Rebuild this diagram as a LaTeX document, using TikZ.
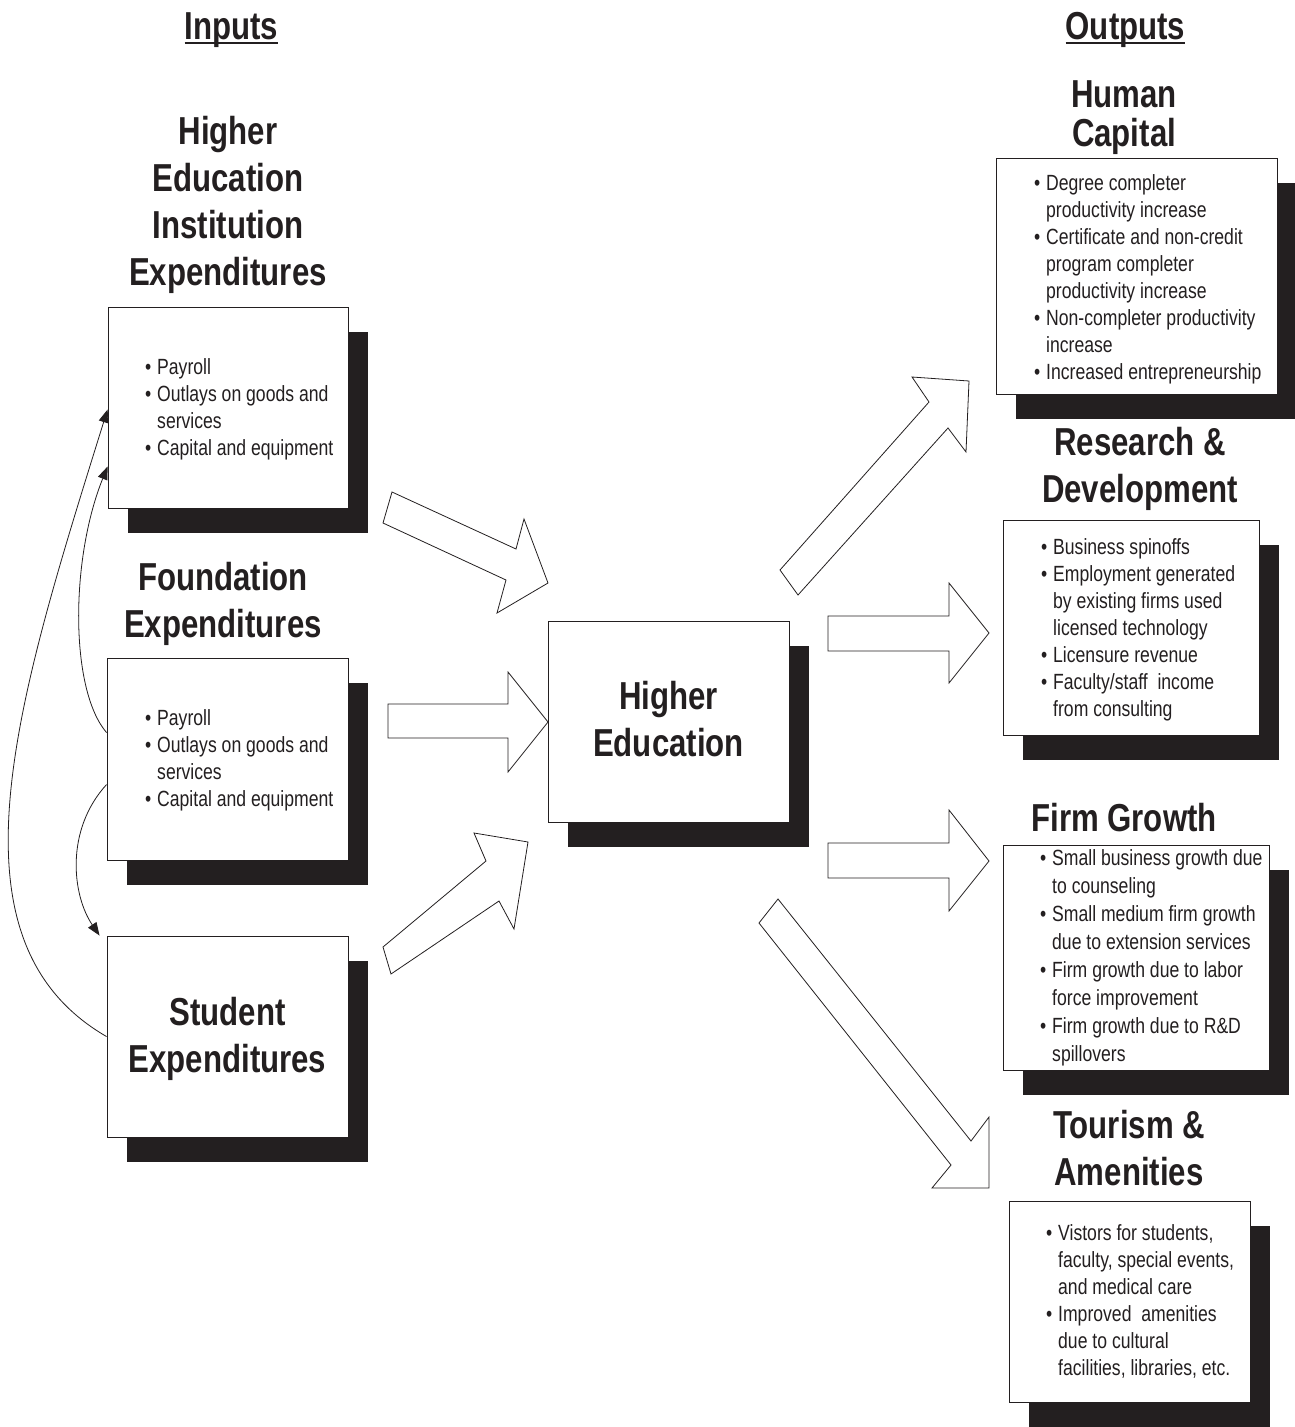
\documentclass[tikz,border=0pt]{standalone}
\usepackage{fontspec}
\setmainfont{Liberation Sans}[FakeStretch=0.8]
\usetikzlibrary{arrows.meta,shadows,calc}
\definecolor{ink}{RGB}{35,31,32}
\newcommand\bi{\strut\llap{•\hspace{6pt}}}
\newcommand\cl{\strut}
\newcommand\myul[1]{\setbox0\hbox{#1}\rlap{\rule[-5pt]{\wd0}{2.6pt}}\box0}
\begin{document}
\begin{tikzpicture}[x=1pt,y=-1pt,
  box/.style={draw=ink, line width=0.9pt, fill=white, inner sep=0,
    drop shadow={shadow xshift=20pt, shadow yshift=-25pt, fill=ink, opacity=1}},
  boxtxt/.style={font=\fontsize{39}{47}\selectfont\bfseries, text=ink, align=center},
  head/.style={font=\fontsize{39}{47}\selectfont\bfseries, text=ink, align=center, inner sep=0, anchor=north},
  lst/.style={font=\fontsize{22}{27}\selectfont, text=ink, align=left, inner sep=0, anchor=north west},
  blk/.style={draw=ink, line width=0.8pt, fill=white, line join=miter},
  cur/.style={draw=ink, line width=0.8pt, -{Triangle[length=13pt,width=10pt]}}]
\useasboundingbox (0,0) rectangle (1294,1427);

% titles
\node[head] (tin) at (231.5,6.1) {\strut\myul{Inputs}};
\node[head] (tout) at (1125.5,6.1) {\strut\myul{Outputs}};

% input boxes
\node[box, minimum width=240pt, minimum height=201pt] (hei) at (228,407.5) {};
\node[box, minimum width=241pt, minimum height=202pt] (fnd) at (227.5,759) {};
\node[box, boxtxt, minimum width=241pt, minimum height=201pt] (stu) at (227.5,1036.5) {\strut Student\\Expenditures};
% central box
\node[box, boxtxt, minimum width=241pt, minimum height=201pt] (he) at (668.5,721.5) {\strut Higher\\Education\rule[-9pt]{0pt}{0pt}};
% output boxes
\node[box, minimum width=281pt, minimum height=236pt] (hc) at (1136.5,276) {};
\node[box, minimum width=256pt, minimum height=215pt] (rd) at (1131,627.5) {};
\node[box, minimum width=266pt, minimum height=225pt] (fg) at (1136,957.5) {};
\node[box, minimum width=241pt, minimum height=201pt] (tr) at (1129.5,1301.5) {};

% headings
\node[head] (heih) at (228,111.1) {\strut Higher\\Education\\Institution\\Expenditures};
\node[head] (fndh) at (223,557.6) {\strut Foundation\\Expenditures};
\node[head] (hch) at (1124,74.1) {\strut Human\\[-8pt]Capital};
\node[head] (rdh) at (1140,422.1) {\strut Research \&\\Development};
\node[head] (fgh) at (1124,798.1) {\strut Firm Growth};
\node[head] (trh) at (1129,1105.1) {\strut Tourism \&\\Amenities};

% lists
\node[lst] (heil) at (157,355.1) {\bi Payroll\\ \bi Outlays on goods and\\ \cl services\\ \bi Capital and equipment};
\node[lst] (fndl) at (157,706.1) {\bi Payroll\\ \bi Outlays on goods and\\ \cl services\\ \bi Capital and equipment};
\node[lst] (hcl) at (1046,171.1) {\bi Degree completer\\ \cl productivity increase\\ \bi Certificate and non-credit\\ \cl program completer\\ \cl productivity increase\\ \bi Non-completer productivity\\ \cl increase\\ \bi Increased entrepreneurship};
\node[lst] (rdl) at (1053,535.1) {\bi Business spinoffs\\ \bi Employment generated\\ \cl by existing firms used\\ \cl licensed technology\\ \bi Licensure revenue\\ \bi Faculty/staff~ income\\ \cl from consulting};
\node[lst, font=\fontsize{22}{28}\selectfont] (fgl) at (1052,845.6) {\bi Small business growth due\\ \cl to counseling\\ \bi Small medium firm growth\\ \cl due to extension services\\ \bi Firm growth due to labor\\ \cl force improvement\\ \bi Firm growth due to R\&D\\ \cl spillovers};
\node[lst] (trl) at (1058,1221.1) {\bi Vistors for students,\\ \cl faculty, special events,\\ \cl and medical care\\ \bi Improved~ amenities\\ \cl due to cultural\\ \cl facilities, libraries, etc.};

% block arrows
\draw[blk] (392,492) -- (516,549) -- (524,519) -- (548,583) -- (497,613) -- (506,580) -- (383,523) -- cycle;
\draw[blk] (388,704) -- (508,704) -- (508,672) -- (548,722) -- (508,772) -- (508,738) -- (388,738) -- cycle;
\draw[blk] (383,947) -- (486,861) -- (474,833) -- (528,842) -- (514,929) -- (499,901) -- (391,974) -- cycle;
\draw[blk] (780,570) -- (929,402) -- (912,377) -- (969,381) -- (966,452) -- (948,428) -- (798,595) -- cycle;
\draw[blk] (828,616) -- (949,616) -- (949,583) -- (989,633) -- (949,683) -- (949,651) -- (828,651) -- cycle;
\draw[blk] (828,843) -- (949,843) -- (949,810) -- (989,861) -- (949,911) -- (949,878) -- (828,878) -- cycle;
\draw[blk] (778,899) -- (971,1141) -- (989,1117) -- (989,1188) -- (932,1188) -- (951,1165) -- (759,923) -- cycle;

% curved connectors
\draw[cur] ([yshift=-101pt]stu.north west) .. controls (-60,940) and (17,700) .. ([yshift=-103pt]hei.north west);
\draw[cur] ([yshift=-75pt]fnd.north west) .. controls (70,690) and (70,560) .. ([yshift=-160pt]hei.north west);
\draw[cur] ([yshift=-127pt]fnd.north west) .. controls (65,830) and (72,895) .. ([xshift=-7pt]stu.north west);
\end{tikzpicture}
\end{document}
